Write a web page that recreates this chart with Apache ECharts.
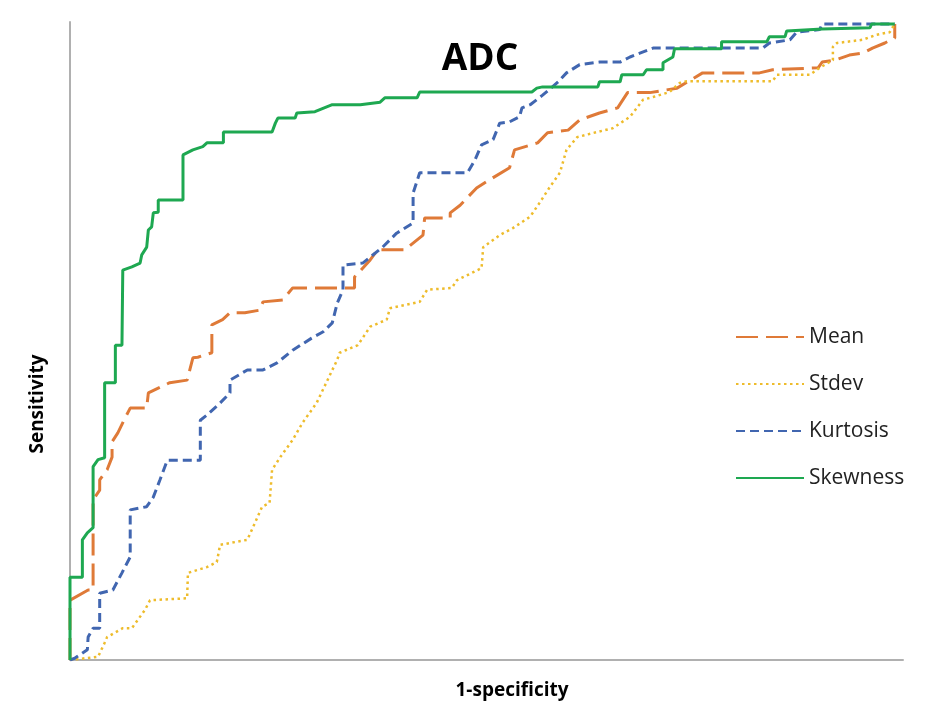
<!DOCTYPE html>
<html>
<head>
<meta charset="utf-8">
<title>ADC</title>
<script src="https://cdn.jsdelivr.net/npm/echarts@6/dist/echarts.min.js"></script>
<style>
  html, body { margin: 0; padding: 0; background: #fff; }
  #chart { width: 927px; height: 711px; }
</style>
</head>
<body>
<div id="chart"></div>
<script>
const seriesNames = ['Mean', 'Stdev', 'Kurtosis', 'Skewness'];

// ROC points: x = 1-specificity, y = sensitivity
const meanFpr = [0, 0, 0.002, 0.022, 0.028, 0.028, 0.036, 0.036, 0.045, 0.051, 0.051, 0.058, 0.067, 0.073, 0.093, 0.095, 0.121, 0.142, 0.149, 0.155, 0.172, 0.172, 0.185, 0.194, 0.212, 0.230, 0.234, 0.258, 0.270, 0.345, 0.345, 0.364, 0.373, 0.406, 0.428, 0.430, 0.461, 0.461, 0.473, 0.493, 0.505, 0.533, 0.539, 0.567, 0.579, 0.604, 0.618, 0.642, 0.664, 0.676, 0.703, 0.736, 0.767, 0.836, 0.852, 0.907, 0.912, 0.927, 0.945, 0.961, 0.973, 0.988, 1.0, 1.0];
const meanTpr = [0, 0.094, 0.097, 0.110, 0.110, 0.252, 0.267, 0.283, 0.299, 0.319, 0.343, 0.357, 0.381, 0.396, 0.396, 0.420, 0.436, 0.440, 0.475, 0.476, 0.483, 0.527, 0.535, 0.546, 0.546, 0.550, 0.563, 0.566, 0.585, 0.585, 0.602, 0.629, 0.645, 0.645, 0.668, 0.695, 0.695, 0.703, 0.715, 0.742, 0.752, 0.774, 0.802, 0.813, 0.829, 0.833, 0.849, 0.860, 0.868, 0.892, 0.892, 0.899, 0.923, 0.923, 0.928, 0.931, 0.940, 0.943, 0.951, 0.954, 0.962, 0.970, 0.978, 1.0];

const stdevFpr = [0, 0.034, 0.042, 0.045, 0.064, 0.075, 0.091, 0.097, 0.142, 0.143, 0.166, 0.178, 0.182, 0.215, 0.222, 0.233, 0.242, 0.245, 0.255, 0.270, 0.282, 0.299, 0.324, 0.327, 0.349, 0.364, 0.384, 0.388, 0.424, 0.433, 0.463, 0.469, 0.499, 0.501, 0.521, 0.537, 0.558, 0.570, 0.582, 0.594, 0.602, 0.615, 0.639, 0.658, 0.679, 0.695, 0.707, 0.727, 0.739, 0.748, 0.852, 0.857, 0.897, 0.909, 0.925, 0.925, 0.930, 0.961, 0.978, 0.994, 1.0];
const stdevTpr = [0, 0.005, 0.027, 0.036, 0.050, 0.050, 0.079, 0.094, 0.097, 0.137, 0.146, 0.154, 0.181, 0.189, 0.209, 0.241, 0.247, 0.299, 0.319, 0.346, 0.373, 0.404, 0.472, 0.483, 0.495, 0.524, 0.535, 0.553, 0.563, 0.582, 0.585, 0.597, 0.616, 0.649, 0.668, 0.679, 0.697, 0.720, 0.744, 0.766, 0.802, 0.822, 0.830, 0.836, 0.854, 0.881, 0.885, 0.893, 0.907, 0.910, 0.910, 0.920, 0.920, 0.931, 0.943, 0.964, 0.970, 0.975, 0.983, 0.987, 1.0];

const kurtFpr = [0, 0.006, 0.021, 0.022, 0.028, 0.036, 0.036, 0.052, 0.063, 0.073, 0.073, 0.093, 0.101, 0.109, 0.118, 0.158, 0.158, 0.166, 0.182, 0.194, 0.194, 0.215, 0.234, 0.251, 0.270, 0.293, 0.307, 0.318, 0.324, 0.331, 0.331, 0.355, 0.379, 0.396, 0.416, 0.416, 0.424, 0.482, 0.491, 0.499, 0.513, 0.521, 0.533, 0.545, 0.548, 0.558, 0.573, 0.592, 0.602, 0.618, 0.642, 0.667, 0.679, 0.691, 0.707, 0.840, 0.848, 0.873, 0.881, 0.909, 0.912, 1.0];
const kurtTpr = [0, 0.003, 0.016, 0.036, 0.050, 0.050, 0.105, 0.110, 0.137, 0.162, 0.236, 0.241, 0.256, 0.283, 0.314, 0.314, 0.377, 0.385, 0.404, 0.420, 0.440, 0.456, 0.456, 0.467, 0.487, 0.506, 0.516, 0.530, 0.561, 0.582, 0.621, 0.624, 0.649, 0.671, 0.687, 0.734, 0.766, 0.766, 0.786, 0.810, 0.818, 0.844, 0.846, 0.854, 0.868, 0.873, 0.888, 0.909, 0.923, 0.936, 0.940, 0.940, 0.948, 0.954, 0.962, 0.962, 0.970, 0.975, 0.987, 0.991, 1.0, 1.0];

const skewFpr = [0, 0, 0.015, 0.015, 0.021, 0.028, 0.028, 0.034, 0.042, 0.042, 0.055, 0.055, 0.063, 0.064, 0.075, 0.085, 0.087, 0.093, 0.095, 0.099, 0.101, 0.107, 0.107, 0.137, 0.137, 0.149, 0.161, 0.166, 0.186, 0.186, 0.245, 0.249, 0.252, 0.273, 0.275, 0.297, 0.312, 0.318, 0.352, 0.376, 0.382, 0.421, 0.424, 0.560, 0.566, 0.573, 0.640, 0.642, 0.667, 0.669, 0.695, 0.699, 0.719, 0.719, 0.731, 0.733, 0.790, 0.790, 0.845, 0.848, 0.867, 0.869, 0.912, 0.970, 0.972, 1.0];
const skewTpr = [0, 0.130, 0.130, 0.189, 0.200, 0.208, 0.304, 0.315, 0.318, 0.436, 0.436, 0.495, 0.495, 0.613, 0.618, 0.624, 0.637, 0.649, 0.676, 0.681, 0.703, 0.704, 0.723, 0.723, 0.794, 0.802, 0.807, 0.813, 0.813, 0.830, 0.830, 0.844, 0.852, 0.852, 0.860, 0.862, 0.870, 0.873, 0.873, 0.877, 0.884, 0.884, 0.893, 0.893, 0.899, 0.901, 0.901, 0.909, 0.909, 0.920, 0.920, 0.928, 0.928, 0.939, 0.948, 0.961, 0.961, 0.972, 0.972, 0.980, 0.980, 0.989, 0.992, 0.994, 1.0, 1.0];

const pairs = (xs, ys) => xs.map((x, i) => [x, ys[i]]);

const chart = echarts.init(document.getElementById('chart'));

const font = '"Open Sans", "Noto Sans", sans-serif';

const makeSeries = (name, xs, ys, color, type, width) => ({
  name: name,
  type: 'line',
  data: pairs(xs, ys),
  showSymbol: false,
  symbol: 'none',
  color: color,
  lineStyle: { color: color, width: width, type: type },
  emphasis: { disabled: true }
});

chart.setOption({
  animation: false,
  backgroundColor: '#ffffff',
  textStyle: { fontFamily: font },
  title: {
    text: 'ADC',
    left: 475,
    top: 36,
    textAlign: 'center',
    textStyle: { fontSize: 37, fontWeight: 'bold', color: '#000', fontFamily: font }
  },
  grid: { left: 70, right: 24, top: 22, bottom: 51 },
  xAxis: {
    type: 'value',
    min: 0,
    max: 1.01,
    axisLine: { show: true, lineStyle: { color: '#b0b0b0', width: 2 } },
    axisTick: { show: false },
    axisLabel: { show: false },
    splitLine: { show: false }
  },
  yAxis: {
    type: 'value',
    min: 0,
    max: 1.003,
    axisLine: { show: true, lineStyle: { color: '#b0b0b0', width: 2 } },
    axisTick: { show: false },
    axisLabel: { show: false },
    splitLine: { show: false }
  },
  legend: {
    orient: 'vertical',
    left: 730,
    top: 320,
    itemWidth: 68,
    itemHeight: 14,
    itemGap: 23,
    data: seriesNames,
    itemStyle: { opacity: 0 },
    textStyle: { fontSize: 21, color: '#222', lineHeight: 24, fontFamily: font }
  },
  graphic: [
    {
      type: 'text',
      x: 512,
      y: 691,
      style: {
        text: '1-specificity',
        font: 'bold 19px ' + font,
        fill: '#000',
        align: 'center',
        verticalAlign: 'middle'
      }
    },
    {
      type: 'text',
      x: 38,
      y: 404,
      rotation: Math.PI / 2,
      style: {
        text: 'Sensitivity',
        font: 'bold 19px ' + font,
        fill: '#000',
        align: 'center',
        verticalAlign: 'middle'
      }
    }
  ],
  series: [
    makeSeries('Mean', meanFpr, meanTpr, '#df7a38', [22, 8], 3),
    makeSeries('Stdev', stdevFpr, stdevTpr, '#eebc2c', [2.5, 3.5], 2.5),
    makeSeries('Kurtosis', kurtFpr, kurtTpr, '#4166b0', [9, 5], 3),
    makeSeries('Skewness', skewFpr, skewTpr, '#1ea851', 'solid', 3)
  ]
});

window.addEventListener('resize', () => chart.resize());
</script>
</body>
</html>
